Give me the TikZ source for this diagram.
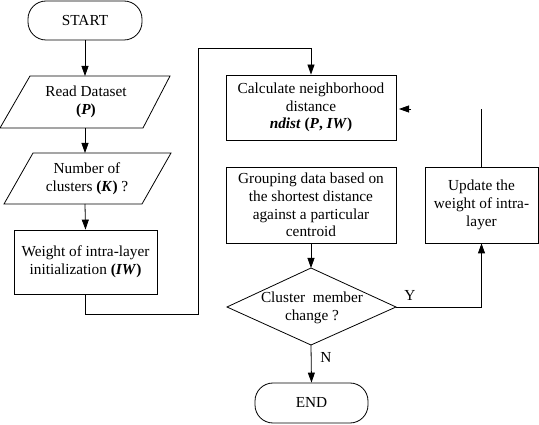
\documentclass[tikz,border=0pt]{standalone}
\usepackage{fontspec}
\setmainfont{Liberation Serif}
\usetikzlibrary{arrows.meta}
\begin{document}
\begin{tikzpicture}[x=1pt,y=-1pt,
  font=\fontsize{15.3}{17.7}\selectfont,
  line width=0.8pt,
  arr/.style={-{Triangle[length=10pt,width=7pt]}},
  txt/.style={align=center,inner sep=0pt},
  boxx/.style={draw,align=center,inner sep=0pt},
  term/.style={draw,rounded corners=18pt,inner sep=0pt}]
\useasboundingbox (0,0) rectangle (539,425);
% terminals
\node[term,minimum width=114pt,minimum height=39pt] (start) at (85,20.5) {START};
\node[term,minimum width=113pt,minimum height=40pt] (end) at (311.5,403) {END};
% parallelograms
\draw (30,76) -- (170,76) -- (143,128) -- (0,128) -- cycle;
\node[txt] (read) at (86,102) {Read Dataset\\\textbf{(\textit{P})}};
\coordinate (readN) at (85,76);
\coordinate (readS) at (85,128);
\draw (33,153) -- (171,153) -- (142,204) -- (4,204) -- cycle;
\node[txt] (num) at (87,179) {Number of\\clusters \textbf{(\textit{K})} ?};
\coordinate (numN) at (85,153);
\coordinate (numS) at (85,204);
% boxes
\node[boxx,minimum width=143pt,minimum height=64pt] (weight) at (85.5,262) {Weight of intra-layer\\initialization \textbf{(\textit{IW})}};
\node[boxx,minimum width=170pt,minimum height=65pt] (calc) at (311,107.5) {Calculate neighborhood\\distance\\\textbf{\textit{ndist} (\textit{P}, \textit{IW})}};
\node[boxx,minimum width=170pt,minimum height=76pt] (group) at (311,205) {Grouping data based on\\the shortest distance\\against a particular\\centroid};
\node[boxx,minimum width=113pt,minimum height=76pt] (update) at (481.5,205) {Update the\\weight of intra-\\layer};
% decision
\draw (311,268) -- (396,307) -- (311,345) -- (227,307) -- cycle;
\node[txt] (dec) at (312,307.5) {Cluster\ \ member\\change ?};
\coordinate (decN) at (311,268);
\coordinate (decE) at (396,307);
\coordinate (decS) at (311,345);
% connectors
\draw[arr] (start.south) -- (readN);
\draw[arr] (readS) -- (numN);
\draw[arr] (numS) -- (weight.north);
\coordinate (w1) at (85.5,314);
\coordinate (w2) at (198,314);
\coordinate (w3) at (198,48);
\coordinate (w4) at (311,48);
\draw[arr] (weight.south) -- (w1) -- (w2) -- (w3) -- (w4) -- (calc.north);
\coordinate (u1) at (481.5,109);
\draw (update.north) -- (u1);
\coordinate (a1) at (411,109);
\coordinate (a0) at (399,109);
\draw[arr] (a1) -- (a0);
\draw[arr] (group.south) -- (decN);
\coordinate (y1) at (481.5,307);
\draw[arr] (decE) -- (y1) -- (update.south);
\draw[arr] (decS) -- (end.north);
\node[txt] (ylab) at (410,295) {Y};
\node[txt] (nlab) at (326,357) {N};
\end{tikzpicture}
\end{document}
